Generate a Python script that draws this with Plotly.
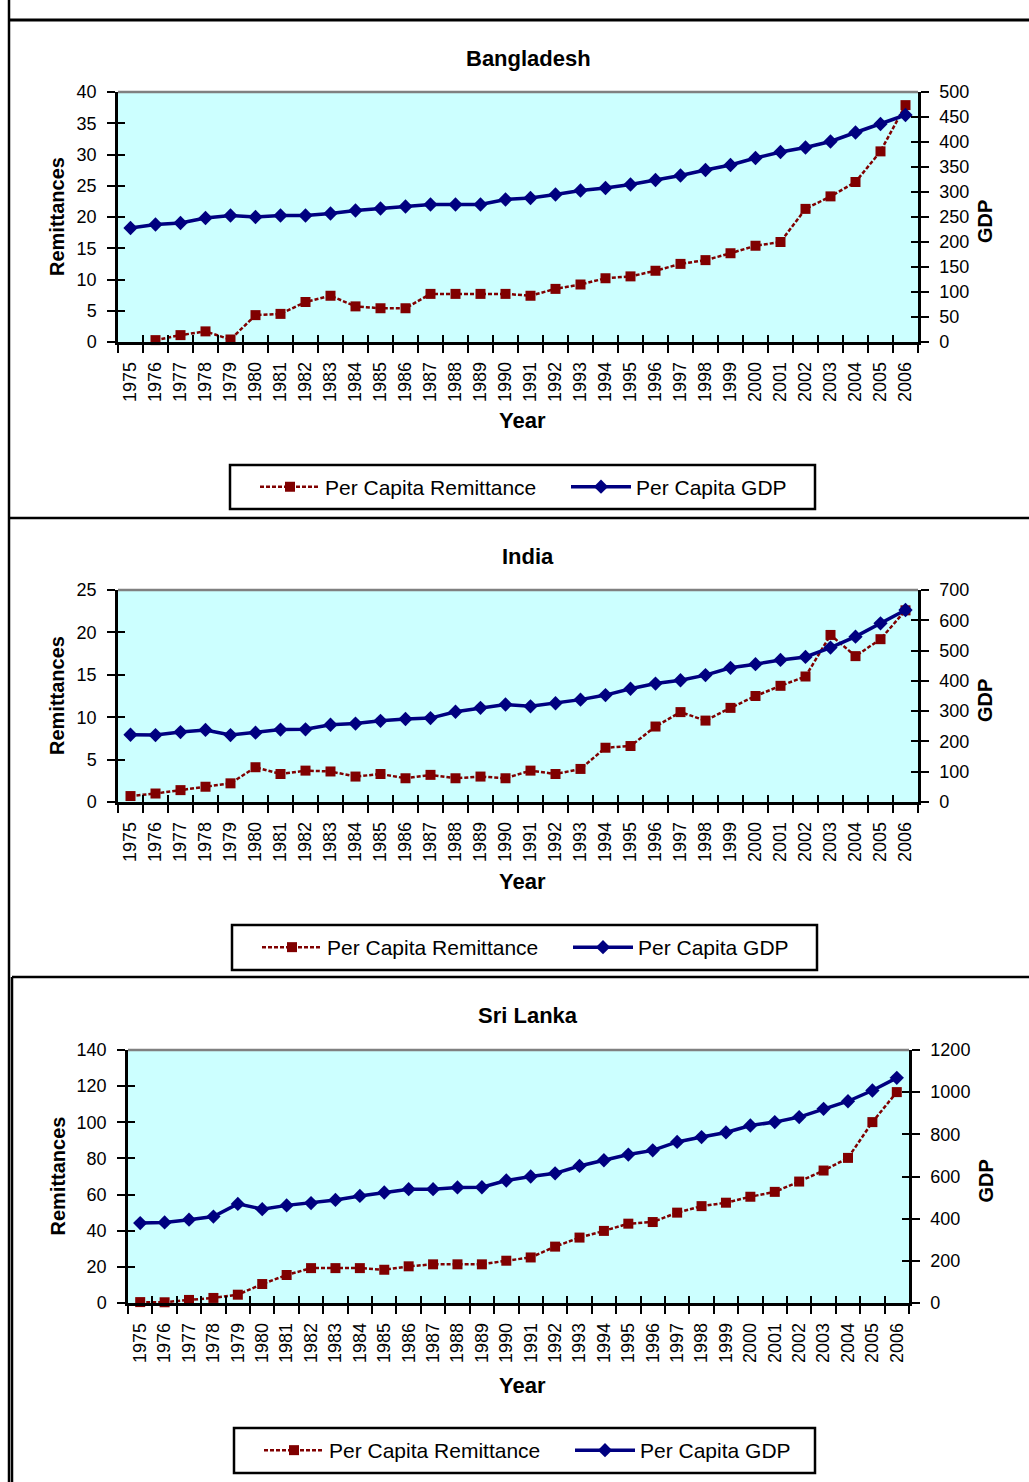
import plotly.graph_objects as go

# ---- data -------------------------------------------------------------
years = [str(y) for y in range(1975, 2007)]

bd_remit = [None, 0.3, 1.1, 1.7, 0.4, 4.3, 4.5, 6.4, 7.4, 5.7, 5.4, 5.4, 7.7, 7.7, 7.7, 7.7,
            7.4, 8.5, 9.2, 10.2, 10.5, 11.4, 12.5, 13.1, 14.2, 15.4, 16.0, 21.3, 23.3, 25.6,
            30.5, 37.9]
bd_gdp = [228, 235, 238, 248, 253, 250, 253, 253, 257, 263, 267, 271, 275, 275, 275, 285,
          288, 295, 303, 308, 315, 324, 333, 344, 354, 368, 380, 389, 401, 419, 436, 454]

in_remit = [0.7, 1.0, 1.4, 1.8, 2.2, 4.1, 3.3, 3.7, 3.6, 3.0, 3.3, 2.8, 3.2, 2.8, 3.0, 2.8,
            3.7, 3.3, 3.9, 6.4, 6.6, 8.9, 10.6, 9.6, 11.1, 12.5, 13.7, 14.8, 19.7, 17.2,
            19.2, 22.6]
in_gdp = [222, 221, 231, 238, 221, 229, 239, 240, 255, 259, 268, 274, 277, 298, 311, 322,
          316, 326, 338, 353, 374, 391, 402, 419, 443, 455, 469, 479, 510, 546, 590, 634]

sl_remit = [0.5, 0.4, 1.7, 2.8, 4.6, 10.5, 15.5, 19.3, 19.3, 19.3, 18.4, 20.3, 21.4, 21.4,
            21.4, 23.4, 25.2, 31.2, 36.2, 39.9, 43.9, 44.8, 50.0, 53.6, 55.5, 58.8, 61.5,
            67.2, 73.3, 80.3, 100.1, 116.7]
sl_gdp = [379, 382, 395, 410, 470, 445, 463, 474, 489, 508, 524, 540, 540, 548, 549, 581,
          600, 615, 650, 677, 704, 724, 764, 787, 809, 842, 858, 882, 921, 957, 1008, 1068]

countries = ["Bangladesh", "India", "Sri Lanka"]
remit_ranges = [(40, 5), (25, 5), (140, 20)]
gdp_ranges = [(500, 50), (700, 100), (1200, 200)]

REMIT_NAME = "Per Capita Remittance"
GDP_NAME = "Per Capita GDP"

# ---- page geometry (pixels) ------------------------------------------
W, H = 1029, 1482
FONT = "Liberation Sans, Arial, sans-serif"


def px(x):
    return x / W


def py(y):
    return 1 - y / H


# plot areas: (left, right, top, bottom)
areas = [(118, 918, 92, 342), (118, 918, 590, 802), (128, 909, 1050, 1303)]
titles_y = [58, 556, 1015]
year_y = [421, 881, 1385]
legend_boxes = [(230, 815, 465, 509), (232, 817, 925, 970), (234, 815, 1428, 1473)]

remits = [bd_remit, in_remit, sl_remit]
gdps = [bd_gdp, in_gdp, sl_gdp]

RED = "#800000"
BLUE = "#000080"

fig = go.Figure()
layout = dict(
    template="none",
    width=W, height=H,
    margin=dict(l=0, r=0, t=0, b=0, pad=0),
    paper_bgcolor="white",
    plot_bgcolor="#CCFFFF",
    font=dict(family=FONT, size=18, color="black"),
    showlegend=True,
)
shapes = []
annotations = []

tick_font = dict(family=FONT, size=18, color="black")


def note(text, x, y, size, angle=0):
    return dict(text=text, x=px(x), y=py(y), xref="paper", yref="paper",
                xanchor="center", yanchor="middle", showarrow=False, textangle=angle,
                font=dict(family=FONT, size=size, color="black"))


axis_common = dict(
    ticks="outside", ticklen=8, tickwidth=2, tickcolor="black", tickfont=tick_font,
    showline=True, linewidth=2.5, linecolor="black", showgrid=False, zeroline=False,
    automargin=False,
)
# second set of axes carrying only the inner half of the crossing tick marks
inner_common = dict(
    ticks="inside", ticklen=7, tickwidth=2, tickcolor="black", showticklabels=False,
    showline=False, showgrid=False, zeroline=False, automargin=False,
)

for i in range(3):
    l, r, t, b = areas[i]
    xa = "xaxis" if i == 0 else f"xaxis{i + 1}"
    xr = "x" if i == 0 else f"x{i + 1}"
    ya_n = 2 * i + 1
    yb_n = 2 * i + 2
    ya = "yaxis" if ya_n == 1 else f"yaxis{ya_n}"
    yr = "y" if ya_n == 1 else f"y{ya_n}"
    yb = f"yaxis{yb_n}"
    yrb = f"y{yb_n}"
    leg = "legend" if i == 0 else f"legend{i + 1}"

    # inner-tick axes
    xi_n = 4 + i
    yi_n = 7 + 2 * i
    yj_n = 8 + 2 * i

    fig.add_trace(go.Scatter(
        x=years, y=remits[i], name=REMIT_NAME, mode="lines+markers",
        xaxis=xr, yaxis=yr, legend=leg,
        line=dict(color=RED, width=2.5, dash="4px,2px"),
        marker=dict(symbol="square", size=10, color=RED),
        cliponaxis=False,
    ))
    fig.add_trace(go.Scatter(
        x=years, y=gdps[i], name=GDP_NAME, mode="lines+markers",
        xaxis=xr, yaxis=yrb, legend=leg,
        line=dict(color=BLUE, width=3.5),
        marker=dict(symbol="diamond", size=11, color=BLUE),
        cliponaxis=False,
    ))
    for yn in (yi_n, yj_n):
        fig.add_trace(go.Scatter(x=[], y=[], xaxis=f"x{xi_n}", yaxis=f"y{yn}",
                                 showlegend=False, hoverinfo="skip"))

    layout[xa] = dict(
        domain=[px(l), px(r)], anchor=yr, type="category",
        range=[-0.5, len(years) - 0.5],
        tickson="boundaries", tickangle=-90, ticklabelstandoff=10,
        **axis_common,
    )
    rmax, rstep = remit_ranges[i]
    layout[ya] = dict(
        domain=[py(b), py(t)], anchor=xr, range=[0, rmax], dtick=rstep, tick0=0,
        ticklabelstandoff=7, **axis_common,
    )
    gmax, gstep = gdp_ranges[i]
    layout[yb] = dict(
        overlaying=yr, anchor=xr, side="right", range=[0, gmax], dtick=gstep, tick0=0,
        ticklabelstandoff=7, **axis_common,
    )

    layout[f"xaxis{xi_n}"] = dict(
        overlaying=xr, anchor=yr, side="bottom", type="linear",
        range=[-0.5, len(years) - 0.5], tick0=-0.5, dtick=1, **inner_common,
    )
    layout[f"yaxis{yi_n}"] = dict(
        overlaying=yr, anchor=f"x{xi_n}", side="left", range=[0, rmax], tick0=0,
        dtick=rstep, **inner_common,
    )
    layout[f"yaxis{yj_n}"] = dict(
        overlaying=yr, anchor=f"x{xi_n}", side="right", range=[0, gmax], tick0=0,
        dtick=gstep, **inner_common,
    )

    # grey top edge of the plot area
    shapes.append(dict(type="line", xref="paper", yref="paper",
                       x0=px(l), x1=px(r), y0=py(t), y1=py(t),
                       line=dict(color="#808080", width=2.5)))

    # chart title and axis titles
    cx = (l + r) / 2
    cy = (t + b) / 2
    annotations.append(note(f"<b>{countries[i]}</b>", 528, titles_y[i], 22))
    annotations.append(note("<b>Remittances</b>", 57, cy, 20, -90))
    annotations.append(note("<b>GDP</b>", 985, cy + 5, 20, -90))
    annotations.append(note("<b>Year</b>", cx + 4, year_y[i], 22))

    # legend frame and legend
    lx0, lx1, ly0, ly1 = legend_boxes[i]
    shapes.append(dict(type="rect", xref="paper", yref="paper",
                       x0=px(lx0), x1=px(lx1), y0=py(ly1), y1=py(ly0),
                       line=dict(color="black", width=2.5)))
    layout[leg] = dict(
        orientation="h", x=px(lx0 + 25), xanchor="left",
        y=py((ly0 + ly1) / 2), yanchor="middle",
        bgcolor="rgba(0,0,0,0)", borderwidth=0,
        itemwidth=60,
        entrywidth=236, entrywidthmode="pixels",
        font=dict(family=FONT, size=21, color="black"),
        traceorder="normal",
    )

# panel frame lines
frame = dict(color="black", width=2.5)
shapes += [
    dict(type="line", xref="paper", yref="paper", x0=px(9), x1=px(9), y0=py(0), y1=py(H), line=frame),
    dict(type="line", xref="paper", yref="paper", x0=px(9), x1=px(W), y0=py(20), y1=py(20),
         line=dict(color="black", width=3)),
    dict(type="line", xref="paper", yref="paper", x0=px(9), x1=px(W), y0=py(518), y1=py(518), line=frame),
    dict(type="line", xref="paper", yref="paper", x0=px(12), x1=px(W), y0=py(977), y1=py(977), line=frame),
    dict(type="line", xref="paper", yref="paper", x0=px(12), x1=px(12), y0=py(977), y1=py(H), line=frame),
]

layout["shapes"] = shapes
layout["annotations"] = annotations
fig.update_layout(**layout)

fig.write_html("out.html")
